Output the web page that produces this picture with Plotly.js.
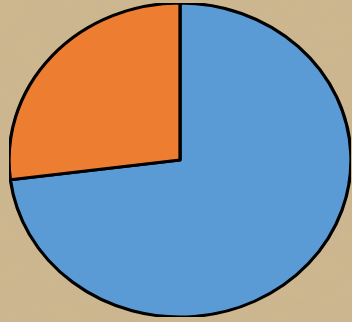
<!DOCTYPE html>
<html>
<head>
<meta charset="utf-8">
<script src="https://cdn.plot.ly/plotly-3.0.1.min.js"></script>
<style>
  html, body { margin: 0; padding: 0; width: 352px; height: 322px; overflow: hidden; background: #cbb38d; }
  #bg { position: absolute; left: 0; top: 0; width: 352px; height: 322px; }
  #chart { position: absolute; left: 23px; top: 3px; width: 314px; height: 314px;
           transform: scaleX(1.089); transform-origin: 50% 50%; }
</style>
</head>
<body>
<svg id="bg" width="352" height="322">
  <filter id="n">
    <feTurbulence type="fractalNoise" baseFrequency="0.05" numOctaves="3" seed="4"/>
    <feColorMatrix type="matrix" values="0 0 0 0 0.45  0 0 0 0 0.38  0 0 0 0 0.25  0 0 0 0.35 0"/>
  </filter>
  <rect width="352" height="322" fill="#cfb890"/>
  <rect width="352" height="322" filter="url(#n)" opacity="0.5"/>
</svg>
<div id="chart"></div>
<script>
const labels = ["Blue", "Orange"];
const values = [73, 27];
const colors = ["#5b9bd5", "#ed7d31"];

Plotly.newPlot("chart", [{
  type: "pie",
  labels: labels,
  values: values,
  sort: false,
  direction: "clockwise",
  rotation: 0,
  textinfo: "none",
  hoverinfo: "none",
  marker: { colors: colors, line: { color: "#000000", width: 3 } }
}], {
  width: 314, height: 314,
  margin: { l: 0, r: 0, t: 0, b: 0, pad: 0 },
  showlegend: false,
  paper_bgcolor: "rgba(0,0,0,0)",
  plot_bgcolor: "rgba(0,0,0,0)"
}, { staticPlot: true, displayModeBar: false });
</script>
</body>
</html>
